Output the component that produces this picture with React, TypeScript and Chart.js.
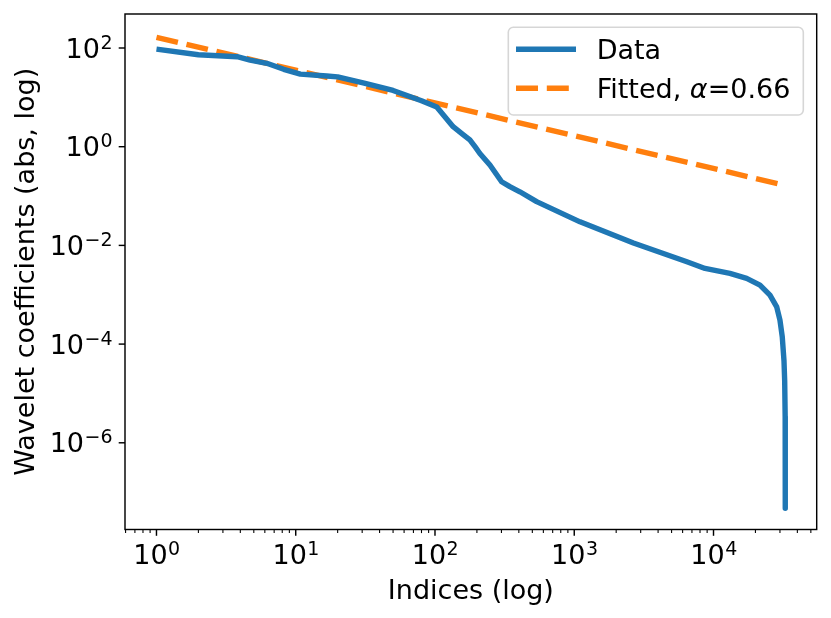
import React, { useEffect, useRef } from 'react';
import { Chart, registerables } from 'chart.js';

Chart.register(...registerables);

// ---- data ----
const dataIndices = [1, 2, 3.8, 4.7, 6.2, 8.2, 10.8, 16.7, 20, 31, 50, 80, 103, 135, 160, 178, 195, 210, 248, 301, 345, 407, 537, 1100, 2660, 6440, 8690, 13120, 17300, 21560, 25430, 28430, 30000, 31170, 32070, 32440, 32700, 32740, 32768];
const dataValues = [95, 73, 66.7, 57, 49, 37, 29.5, 27, 26, 19.5, 13.8, 8.5, 6.4, 2.54, 1.74, 1.37, 0.98, 0.73, 0.425, 0.195, 0.155, 0.122, 0.077, 0.030, 0.0112, 0.00466, 0.00341, 0.0027, 0.00214, 0.00157, 0.00098, 0.00057, 0.000305, 0.00014, 0.000046, 0.000018, 0.0000034, 0.000001, 4.7e-8];

const fittedIndices = [1, 32768];
const fittedValues = [165, 0.164];

const xMajorTicks = [1, 10, 100, 1000, 10000];
const xMajorExponents = ['0', '1', '2', '3', '4'];
const xMinorTicks = [0.6, 0.7, 0.8, 0.9, 2, 3, 4, 5, 6, 7, 8, 9, 20, 30, 40, 50, 60, 70, 80, 90, 200, 300, 400, 500, 600, 700, 800, 900, 2000, 3000, 4000, 5000, 6000, 7000, 8000, 9000, 20000, 30000, 40000, 50000];
const yMajorTicks = [1e2, 1e0, 1e-2, 1e-4, 1e-6];
const yMajorExponents = ['2', '0', '\u22122', '\u22124', '\u22126'];

const seriesLabels = ['Data', 'Fitted, \u03b1=0.66'];
const xTitle = 'Indices (log)';
const yTitle = 'Wavelet coefficients (abs, log)';

const FONT = '"DejaVu Sans", sans-serif';
const BLUE = '#1f77b4';
const ORANGE = '#ff7f0e';

const decorPlugin = {
  id: 'mplDecor',
  afterDraw(chart: any) {
    const ctx: CanvasRenderingContext2D = chart.ctx;
    const area = chart.chartArea;
    const xs = chart.scales.x;
    const ys = chart.scales.y;
    ctx.save();
    ctx.fillStyle = '#000';
    ctx.strokeStyle = '#000';

    // spines
    ctx.lineWidth = 1.44;
    ctx.strokeRect(area.left, area.top, area.right - area.left, area.bottom - area.top);

    // x ticks
    ctx.lineWidth = 1.44;
    xMajorTicks.forEach((v) => {
      const px = xs.getPixelForValue(v);
      ctx.beginPath();
      ctx.moveTo(px, area.bottom);
      ctx.lineTo(px, area.bottom + 6.3);
      ctx.stroke();
    });
    ctx.lineWidth = 1.08;
    xMinorTicks.forEach((v) => {
      const px = xs.getPixelForValue(v);
      if (px < area.left - 0.5 || px > area.right + 0.5) return;
      ctx.beginPath();
      ctx.moveTo(px, area.bottom);
      ctx.lineTo(px, area.bottom + 3.6);
      ctx.stroke();
    });
    // y ticks
    ctx.lineWidth = 1.44;
    yMajorTicks.forEach((v) => {
      const py = ys.getPixelForValue(v);
      ctx.beginPath();
      ctx.moveTo(area.left, py);
      ctx.lineTo(area.left - 6.3, py);
      ctx.stroke();
    });

    const baseFont = `27px ${FONT}`;
    const expFont = `19px ${FONT}`;
    ctx.textBaseline = 'alphabetic';
    ctx.textAlign = 'left';

    // x tick labels
    xMajorTicks.forEach((v, i) => {
      const px = xs.getPixelForValue(v);
      ctx.font = baseFont;
      const wb = ctx.measureText('10').width;
      ctx.font = expFont;
      const we = ctx.measureText(xMajorExponents[i]).width;
      const x0 = px - (wb + we) / 2;
      ctx.font = baseFont;
      ctx.fillText('10', x0, area.bottom + 34.7);
      ctx.font = expFont;
      ctx.fillText(xMajorExponents[i], x0 + wb + 0.5, area.bottom + 25.5);
    });

    // y tick labels
    yMajorTicks.forEach((v, i) => {
      const py = ys.getPixelForValue(v);
      ctx.font = baseFont;
      const wb = ctx.measureText('10').width;
      ctx.font = expFont;
      const we = ctx.measureText(yMajorExponents[i]).width;
      const xr = area.left - 13;
      const x0 = xr - we - wb;
      ctx.font = baseFont;
      ctx.fillText('10', x0, py + 9.5);
      ctx.font = expFont;
      ctx.fillText(yMajorExponents[i], x0 + wb + 0.5, py + 0.5);
    });

    // axis titles
    ctx.font = baseFont;
    ctx.textAlign = 'center';
    ctx.fillText(xTitle, (area.left + area.right) / 2, area.bottom + 69);
    ctx.save();
    ctx.translate(34, (area.top + area.bottom) / 2);
    ctx.rotate(-Math.PI / 2);
    ctx.fillText(yTitle, 0, 0);
    ctx.restore();

    // legend
    const lx = 508.3, ly = 27.3, lw = 295, lh = 87.7, r = 5;
    ctx.beginPath();
    ctx.moveTo(lx + r, ly);
    ctx.lineTo(lx + lw - r, ly);
    ctx.arcTo(lx + lw, ly, lx + lw, ly + r, r);
    ctx.lineTo(lx + lw, ly + lh - r);
    ctx.arcTo(lx + lw, ly + lh, lx + lw - r, ly + lh, r);
    ctx.lineTo(lx + r, ly + lh);
    ctx.arcTo(lx, ly + lh, lx, ly + lh - r, r);
    ctx.lineTo(lx, ly + r);
    ctx.arcTo(lx, ly, lx + r, ly, r);
    ctx.closePath();
    ctx.fillStyle = 'rgba(255,255,255,0.8)';
    ctx.fill();
    ctx.strokeStyle = 'rgba(204,204,204,0.8)';
    ctx.lineWidth = 1.6;
    ctx.stroke();

    const ds = chart.data.datasets;
    const rows = [49.3, 88.3];
    ds.forEach((d: any, i: number) => {
      const y = rows[i];
      ctx.beginPath();
      ctx.strokeStyle = d.borderColor;
      ctx.lineWidth = d.borderWidth;
      ctx.setLineDash(d.borderDash || []);
      ctx.lineCap = 'butt';
      ctx.moveTo(516, y);
      ctx.lineTo(576, y);
      ctx.stroke();
      ctx.setLineDash([]);
      ctx.fillStyle = '#000';
      ctx.textAlign = 'left';
      const label: string = d.label;
      const idx = label.indexOf('\u03b1');
      let x = 596.7;
      const by = y + 9.5;
      if (idx < 0) {
        ctx.font = baseFont;
        ctx.fillText(label, x, by);
      } else {
        const pre = label.slice(0, idx);
        const post = label.slice(idx + 1);
        ctx.font = baseFont;
        ctx.fillText(pre, x, by);
        x += ctx.measureText(pre).width;
        ctx.font = `italic 27px ${FONT}`;
        ctx.fillText('\u03b1', x, by);
        x += ctx.measureText('\u03b1').width;
        ctx.font = baseFont;
        ctx.fillText(post, x, by);
      }
    });

    ctx.restore();
  },
};

export default function App() {
  const canvasRef = useRef<HTMLCanvasElement | null>(null);

  useEffect(() => {
    if (!canvasRef.current) return;
    const chart = new Chart(canvasRef.current, {
      type: 'line',
      data: {
        datasets: [
          {
            label: seriesLabels[0],
            data: dataIndices.map((x, i) => ({ x, y: dataValues[i] })),
            borderColor: BLUE,
            borderWidth: 5.4,
            pointRadius: 0,
            tension: 0,
            fill: false,
            borderJoinStyle: 'round',
            borderCapStyle: 'butt',
          } as any,
          {
            label: seriesLabels[1],
            data: fittedIndices.map((x, i) => ({ x, y: fittedValues[i] })),
            borderColor: ORANGE,
            borderWidth: 5.4,
            borderDash: [22, 8.8],
            pointRadius: 0,
            tension: 0,
            fill: false,
            borderCapStyle: 'butt',
          } as any,
        ],
      },
      options: {
        animation: false,
        responsive: true,
        maintainAspectRatio: false,
        layout: { padding: { left: 125, top: 14, right: 14.3, bottom: 88.5 } },
        plugins: { legend: { display: false }, tooltip: { enabled: false } },
        scales: {
          x: {
            type: 'logarithmic',
            display: false,
            min: Math.pow(10, -0.226),
            max: Math.pow(10, 4.741),
          },
          y: {
            type: 'logarithmic',
            display: false,
            min: Math.pow(10, -7.757),
            max: Math.pow(10, 2.689),
          },
        },
      },
      plugins: [decorPlugin],
    });
    return () => chart.destroy();
  }, []);

  return (
    <div style={{ position: 'absolute', left: 0, top: 0, width: 831, height: 618, background: '#fff' }}>
      <canvas ref={canvasRef} />
    </div>
  );
}
